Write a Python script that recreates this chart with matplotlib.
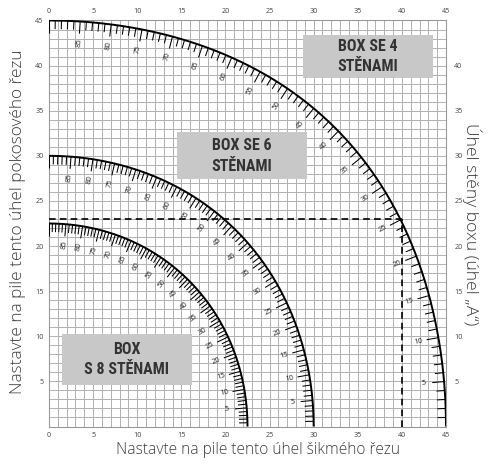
import numpy as np
import matplotlib
matplotlib.use("Agg")
import matplotlib.pyplot as plt
from matplotlib.collections import LineCollection
from matplotlib.patches import Rectangle

# ---------------- data ----------------
box_sides = [4, 6, 8]                       # number of box walls for each scale
box_titles = ["BOX SE 4\nSTĚNAMI", "BOX SE 6\nSTĚNAMI", "BOX\nS 8 STĚNAMI"]
wall_angle_ticks = list(range(0, 91, 1))     # wall angle "A" ticks (degrees)
wall_angle_labels = list(range(5, 90, 5))    # labelled wall angles
axis_ticks = list(range(0, 46, 5))           # bevel / miter tick labels
left_ticks = list(range(5, 46, 5))
right_ticks = list(range(5, 41, 5))
example_miter = 40                           # dashed example reading
example_bevel = 23

xlabel = "Nastavte na pile tento úhel šikmého řezu"
ylabel = "Nastavte na pile tento úhel pokosového řezu"
rlabel = "Úhel stěny boxu (úhel „A“)"

# ---------------- layout / style ----------------
W, H = 488, 465
fig = plt.figure(figsize=(W / 100, H / 100), dpi=100)
ax = fig.add_axes([49 / W, (H - 426.5) / H, 397 / W, 406 / H])
ax.set_xlim(0, 45)
ax.set_ylim(0, 45)

txt_font = ["Open Sans", "DejaVu Sans"]
box_font = ["Roboto Condensed", "Roboto", "DejaVu Sans"]
grid_col = "#b0b0b0"

ax.set_xticks(axis_ticks)
ax.set_yticks(left_ticks)
ax.set_xticks(np.arange(0, 46, 1), minor=True)
ax.set_yticks(np.arange(0, 46, 1), minor=True)
ax.grid(which="both", color=grid_col, lw=0.7)
ax.set_axisbelow(True)
ax.tick_params(which="both", length=0)
ax.tick_params(which="major", labelsize=5.2, labelcolor="#444444", pad=4,
               labeltop=True, labelbottom=True, labelleft=True, labelright=False)
for lab in ax.get_xticklabels() + ax.get_yticklabels():
    lab.set_family(txt_font)
sec = ax.secondary_yaxis("right")
sec.set_yticks(right_ticks)
sec.tick_params(length=0, labelsize=5.2, labelcolor="#444444", pad=6)
sec.spines["right"].set_visible(False)
for lab in sec.get_yticklabels():
    lab.set_family(txt_font)
for s in ax.spines.values():
    s.set_color("#999999")
    s.set_linewidth(0.8)


def miter_bevel(n, a_deg):
    h = np.pi / n
    a = np.radians(a_deg)
    t = np.arctan2(np.sin(a), np.cos(a) * np.cos(h))
    m = np.degrees(np.arctan(np.cos(t) * np.tan(h)))
    b = np.degrees(np.arcsin(np.sin(t) * np.sin(h)))
    return m, b


def inward_normal(n, a_deg):
    m1, b1 = miter_bevel(n, np.asarray(a_deg) - 0.01)
    m2, b2 = miter_bevel(n, np.asarray(a_deg) + 0.01)
    tx, ty = m2 - m1, b2 - b1
    ln = np.hypot(tx, ty)
    return -ty / ln, tx / ln


for n in box_sides:
    aa = np.linspace(0, 90, 600)
    m, b = miter_bevel(n, aa)
    ax.plot(m, b, color="black", lw=1.4, solid_capstyle="butt", zorder=4)
    at = np.array(wall_angle_ticks, dtype=float)
    mt, bt = miter_bevel(n, at)
    nx, ny = inward_normal(n, at)
    lens = np.where(at % 5 == 0, 1.35, 0.95)
    segs = [[(mx, by), (mx + lx * L, by + ly * L)]
            for mx, by, lx, ly, L in zip(mt, bt, nx, ny, lens)]
    ax.add_collection(LineCollection(segs, colors="black", linewidths=0.75, zorder=4))
    al = np.array(wall_angle_labels, dtype=float)
    ml, bl = miter_bevel(n, al)
    lx, ly = inward_normal(n, al)
    for A, mx, by, ux, uy in zip(wall_angle_labels, ml, bl, lx, ly):
        rot = np.degrees(np.arctan2(-uy, -ux))
        ax.text(mx + ux * 2.3, by + uy * 2.3, str(A), fontsize=5.5, color="#222222",
                rotation=rot, rotation_mode="anchor", ha="center", va="center",
                family=txt_font, zorder=5)

# dashed example
ax.plot([0, example_miter], [example_bevel, example_bevel], color="black",
        lw=1.2, ls=(0, (4, 2.5)), zorder=3)
ax.plot([example_miter, example_miter], [0, example_bevel], color="black",
        lw=1.2, ls=(0, (4, 2.5)), zorder=3)

# grey title boxes
box_x = [(28.8, 43.5), (14.5, 29.2), (1.45, 16.2)]
box_y = [(38.6, 43.4), (27.4, 32.6), (4.6, 10.3)]
for title, (x0, x1), (y0, y1) in zip(box_titles, box_x, box_y):
    ax.add_patch(Rectangle((x0, y0), x1 - x0, y1 - y0, facecolor="#c8c8c8",
                           edgecolor="none", zorder=6))
    ax.text((x0 + x1) / 2, (y0 + y1) / 2, title, ha="center", va="center",
            fontsize=11.5, fontweight="bold", color="#333333", family=box_font,
            linespacing=1.45, zorder=7)

fig.text(258 / W, 1 - 450 / H, xlabel, ha="center", va="center", fontsize=11.2,
         color="#3c3c3c", family=txt_font, fontweight="light")
fig.text(18 / W, 1 - 222 / H, ylabel, ha="center", va="center", fontsize=12.4,
         color="#3c3c3c", family=txt_font, fontweight="light", rotation=90)
fig.text(472 / W, 1 - 224 / H, rlabel, ha="center", va="center", fontsize=12.6,
         color="#3c3c3c", family=txt_font, fontweight="light", rotation=270)

fig.savefig("out.png", dpi=100)
